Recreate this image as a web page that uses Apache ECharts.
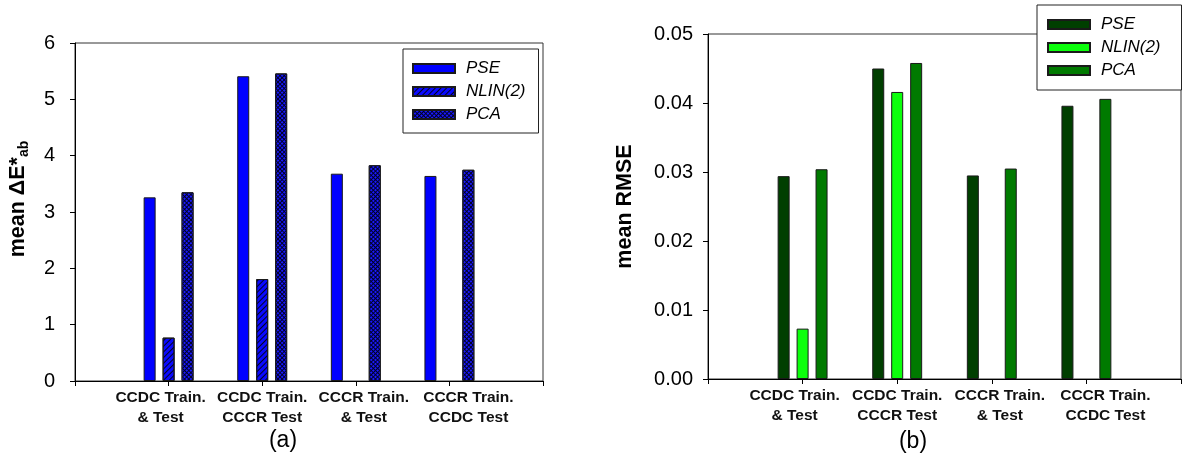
<!DOCTYPE html>
<html>
<head>
<meta charset="utf-8">
<script src="https://cdn.jsdelivr.net/npm/echarts/dist/echarts.min.js"></script>
<style>
  html, body { margin: 0; padding: 0; background: #ffffff; }
  #chart { width: 1184px; height: 463px; }
</style>
</head>
<body>
<div id="chart"></div>
<script>
// Training / test set combinations shown on both panels
const categories = [
  'CCDC Train.\n& Test',
  'CCDC Train.\nCCCR Test',
  'CCCR Train.\n& Test',
  'CCCR Train.\nCCDC Test'
];
const methods = ['PSE', 'NLIN(2)', 'PCA'];

// Panel (a): mean colour difference ΔE*ab
const deltaE_PSE  = [3.26, 5.41, 3.68, 3.64];
const deltaE_NLIN = [0.77, 1.81, null, null];
const deltaE_PCA  = [3.35, 5.46, 3.83, 3.75];

// Panel (b): mean spectral RMSE
const rmse_PSE  = [0.0294, 0.0450, 0.0295, 0.0396];
const rmse_NLIN = [0.0073, 0.0416, null, null];
const rmse_PCA  = [0.0304, 0.0458, 0.0305, 0.0406];

const yTicksA = { min: 0, max: 6, step: 1 };
const yTicksB = { min: 0, max: 0.05, step: 0.01 };

const FONT = '"Liberation Sans", Arial, sans-serif';

// empty slots at both ends of the category axis leave room around the groups
const padded = arr => [null, ...arr, null];
const axisCats = ['', ...categories, ''];

// small horizontal nudge of each category label
const labelShift = [-8, 0, 8, 19];
const labelRich = {};
labelShift.forEach((d, i) => {
  labelRich['s' + (i + 1)] = {
    fontFamily: FONT, fontSize: 15.5, fontWeight: 'bold', color: '#111',
    lineHeight: 20.5,
    padding: d < 0 ? [0, -2 * d, 0, 0] : [0, 0, 0, 2 * d]
  };
});

function xAxisFor(gridIndex) {
  return {
    type: 'category', gridIndex, data: axisCats, boundaryGap: false,
    axisLine: { show: true, lineStyle: { color: '#000', width: 1 } },
    axisTick: { show: true, interval: 0, length: 5, lineStyle: { color: '#000' } },
    axisLabel: {
      interval: 0, margin: 6,
      formatter: (v, idx) => v ? v.split('\n').map(l => `{s${idx}|${l}}`).join('\n') : '',
      rich: labelRich
    },
    splitLine: { show: false }
  };
}

function yAxisFor(gridIndex, t, name, gap, shift, labelMargin, fmt) {
  return {
    type: 'value', gridIndex, min: t.min, max: t.max, interval: t.step,
    axisLine: { show: true, lineStyle: { color: '#000', width: 1 } },
    axisTick: { show: true, length: 5, lineStyle: { color: '#000' } },
    axisLabel: { margin: labelMargin, fontFamily: FONT, fontSize: 20, color: '#000', formatter: fmt },
    splitLine: { show: false },
    name, nameLocation: 'middle', nameRotate: 90, nameGap: gap,
    nameTextStyle: {
      padding: [0, 0, 0, shift],
      rich: {
        m: { fontFamily: FONT, fontSize: 21.5, fontWeight: 'bold', color: '#000', lineHeight: 26, verticalAlign: 'middle' },
        sub: { fontFamily: FONT, fontSize: 14, fontWeight: 'bold', color: '#000', lineHeight: 13, verticalAlign: 'bottom' }
      }
    }
  };
}

// NLIN(2): thin diagonal hatching on blue
const hatch = {
  symbol: 'rect', symbolSize: 1, dashArrayX: [[1, 0]], dashArrayY: [1, 2.5],
  rotation: -Math.PI / 4, color: 'rgba(0,0,0,0.85)'
};
// PCA: dark cross-hatching leaving small blue diamonds
const cross = {
  symbol: 'rect', symbolSize: 1, dashArrayX: [[1.5, 1]], dashArrayY: [1.5, 1],
  rotation: Math.PI / 4, color: '#1a1aff'
};

function barSeries(name, values, axisIdx, color, decal) {
  const itemStyle = { color, borderColor: '#1a1a1a', borderWidth: 1 };
  if (decal) itemStyle.decal = decal;
  return {
    type: 'bar', name, data: padded(values),
    xAxisIndex: axisIdx, yAxisIndex: axisIdx,
    barWidth: 12, barGap: '58%',
    itemStyle, emphasis: { disabled: true }, animation: false
  };
}

function legendFor(prefix, left, top, padding) {
  return {
    orient: 'vertical', left, top, padding,
    data: methods.map(m => prefix + m),
    formatter: n => n.slice(prefix.length),
    icon: 'rect', itemWidth: 42, itemHeight: 9, itemGap: 6,
    selectedMode: false,
    backgroundColor: '#fff', borderColor: '#222', borderWidth: 1,
    textStyle: { fontFamily: FONT, fontSize: 17, fontStyle: 'italic', color: '#000', padding: [0, 0, 0, 6] }
  };
}

const chart = echarts.init(document.getElementById('chart'), null, { renderer: 'canvas' });
chart.setOption({
  backgroundColor: '#fff',
  animation: false,
  grid: [
    { left: 75, top: 43, right: 641, bottom: 82, show: true, borderColor: '#333', borderWidth: 1, backgroundColor: 'transparent' },
    { left: 708, top: 34, right: -3, bottom: 84, show: true, borderColor: '#333', borderWidth: 1, backgroundColor: 'transparent' }
  ],
  xAxis: [xAxisFor(0), xAxisFor(1)],
  yAxis: [
    yAxisFor(0, yTicksA, '{m|mean ΔE*}{sub|ab}', 44, 26, 20, v => String(v)),
    yAxisFor(1, yTicksB, '{m|mean RMSE}', 70, 0, 15, v => v.toFixed(2))
  ],
  legend: [
    legendFor('ΔE ', 403, 49, [11, 13, 10, 9]),
    legendFor('RMSE ', 1037, 5, [11, 21, 11, 10])
  ],
  series: [
    barSeries('ΔE PSE', deltaE_PSE, 0, '#0000ff'),
    barSeries('ΔE NLIN(2)', deltaE_NLIN, 0, '#0a0aff', hatch),
    barSeries('ΔE PCA', deltaE_PCA, 0, '#000028', cross),
    barSeries('RMSE PSE', rmse_PSE, 1, '#003f00'),
    barSeries('RMSE NLIN(2)', rmse_NLIN, 1, '#0cff0c'),
    barSeries('RMSE PCA', rmse_PCA, 1, '#007a00')
  ],
  graphic: [
    { type: 'text', x: 283, y: 441, style: { text: '(a)', font: '23px "Liberation Sans", Arial, sans-serif', fill: '#000', textAlign: 'center', textVerticalAlign: 'middle' } },
    { type: 'text', x: 913, y: 442, style: { text: '(b)', font: '23px "Liberation Sans", Arial, sans-serif', fill: '#000', textAlign: 'center', textVerticalAlign: 'middle' } }
  ]
});
</script>
</body>
</html>
